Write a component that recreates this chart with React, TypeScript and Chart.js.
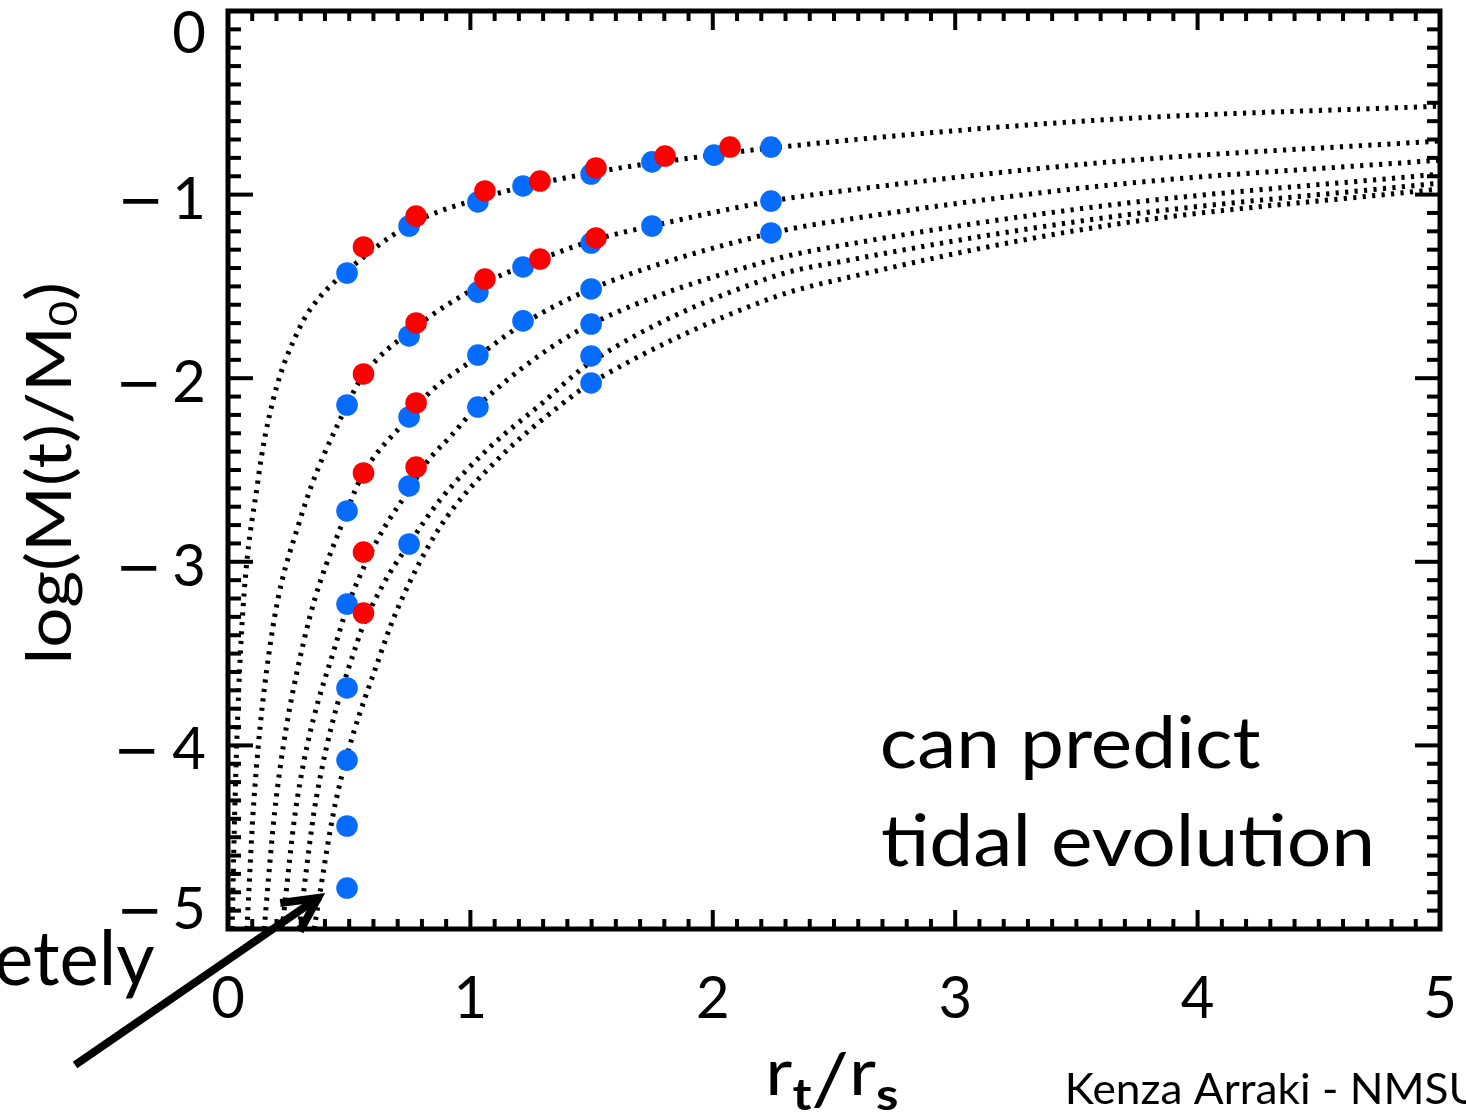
import React, { useEffect, useRef } from 'react';
import { Chart, registerables } from 'chart.js';

Chart.register(...registerables);

const FONT = 'Lato, "Open Sans", sans-serif';

// ---- axes ----
const xRange = [0, 5];
const yRange = [-5, 0];
const xTickValues = [0, 1, 2, 3, 4, 5];
const xTickLabels = ['0', '1', '2', '3', '4', '5'];
const yTickValues = [0, -1, -2, -3, -4, -5];
const yTickLabels = ['0', '1', '2', '3', '4', '5'];
const yTickNegative = [false, true, true, true, true, true];
const minorStep = 0.1;

// ---- dotted model curves: x = r_t / r_s, y = log(M(t)/M0) ----
const curve1X = [0.017, 0.029, 0.054, 0.124, 0.186, 0.297, 0.359, 0.491, 0.747, 1.031, 1.498, 2.005, 2.24, 3.597, 5.0];
const curve1Y = [-5.0, -4.297, -3.426, -2.554, -2.119, -1.721, -1.59, -1.416, -1.166, -1.024, -0.882, -0.784, -0.746, -0.594, -0.518];

const curve2X = [0.078, 0.107, 0.177, 0.297, 0.491, 0.557, 0.759, 1.044, 1.25, 1.51, 1.749, 2.244, 2.566, 3.639, 5.0];
const curve2Y = [-5.0, -4.297, -3.426, -2.772, -2.146, -1.988, -1.737, -1.492, -1.373, -1.247, -1.171, -1.035, -0.975, -0.822, -0.708];

const curve3X = [0.149, 0.198, 0.314, 0.491, 0.557, 0.747, 0.821, 1.027, 1.217, 1.498, 2.244, 2.566, 3.639, 5.0];
const curve3Y = [-5.0, -4.297, -3.426, -2.723, -2.522, -2.211, -2.092, -1.885, -1.705, -1.514, -1.209, -1.133, -0.948, -0.812];

const curve4X = [0.223, 0.285, 0.462, 0.503, 0.565, 0.639, 0.747, 0.821, 0.916, 1.027, 1.258, 1.498, 2.244, 2.566, 3.639, 5.0];
const curve4Y = [-5.0, -4.297, -3.371, -3.208, -3.017, -2.827, -2.609, -2.456, -2.32, -2.157, -1.901, -1.705, -1.356, -1.269, -1.057, -0.888];

const curve5X = [0.293, 0.363, 0.536, 0.639, 0.747, 0.875, 1.081, 1.287, 1.498, 2.244, 2.566, 3.639, 5.0];
const curve5Y = [-5.0, -4.297, -3.426, -3.126, -2.903, -2.663, -2.375, -2.146, -1.912, -1.449, -1.356, -1.122, -0.937];

const curve6X = [0.355, 0.446, 0.635, 0.71, 0.875, 1.11, 1.399, 1.498, 2.244, 2.566, 3.639, 5.0];
const curve6Y = [-5.0, -4.297, -3.48, -3.224, -2.81, -2.446, -2.119, -2.026, -1.563, -1.449, -1.166, -0.969];

// ---- simulation points ----
const blueX = [
  0.491, 0.491, 0.491, 0.491, 0.491, 0.491, 0.491, 0.491,
  0.747, 0.747, 0.747, 0.747, 0.747,
  1.031, 1.031, 1.031, 1.031,
  1.217, 1.217, 1.217,
  1.498, 1.498, 1.498, 1.498, 1.498, 1.498,
  1.749, 1.749,
  2.005,
  2.24, 2.24, 2.24,
];
const blueY = [
  -1.427, -2.146, -2.723, -3.23, -3.687, -4.08, -4.439, -4.777,
  -1.171, -1.77, -2.211, -2.587, -2.903,
  -1.04, -1.531, -1.874, -2.157,
  -0.953, -1.394, -1.688,
  -0.888, -1.264, -1.514, -1.705, -1.879, -2.026,
  -0.822, -1.171,
  -0.785,
  -0.741, -1.035, -1.209,
];

const redX = [
  0.559, 0.559, 0.559, 0.559, 0.559,
  0.776, 0.776, 0.776, 0.776,
  1.06, 1.06,
  1.287, 1.287,
  1.518, 1.518,
  1.803,
  2.071,
];
const redY = [
  -1.285, -1.977, -2.516, -2.947, -3.279,
  -1.117, -1.699, -2.135, -2.484,
  -0.98, -1.46,
  -0.926, -1.351,
  -0.855, -1.236,
  -0.79,
  -0.741,
];

// ---- annotation arrow (data coordinates) ----
const arrowTail = [-0.631, -5.741];
const arrowTip = [0.371, -4.831];

const curvesX = [curve1X, curve2X, curve3X, curve4X, curve5X, curve6X];
const curvesY = [curve1Y, curve2Y, curve3Y, curve4Y, curve5Y, curve6Y];

const zip = (xs: number[], ys: number[]) => xs.map((x, i) => ({ x, y: ys[i] }));

type Seg = { t: string; size: number; weight?: number; dy?: number; family?: string };

const fontOf = (s: Seg) => `${s.weight ?? 400} ${s.size}px ${s.family ?? FONT}`;

function drawRich(ctx: CanvasRenderingContext2D, segs: Seg[], left: number, baseline: number, inkWidth: number) {
  ctx.save();
  ctx.textAlign = 'left';
  ctx.textBaseline = 'alphabetic';
  const ms = segs.map((s) => {
    ctx.font = fontOf(s);
    return ctx.measureText(s.t);
  });
  const startBear = ms[0].actualBoundingBoxLeft;
  let adv = 0;
  for (let i = 0; i < ms.length - 1; i++) adv += ms[i].width;
  const total = startBear + adv + ms[ms.length - 1].actualBoundingBoxRight;
  const sx = inkWidth / total;
  ctx.translate(left, baseline);
  ctx.scale(sx, 1);
  let cx = startBear;
  segs.forEach((s, i) => {
    ctx.font = fontOf(s);
    ctx.fillText(s.t, cx, s.dy ?? 0);
    cx += ms[i].width;
  });
  ctx.restore();
}

const framePlugin = {
  id: 'idlFrame',
  afterDraw(chart: any) {
    const { ctx, chartArea: a, scales } = chart;
    const xs = scales.x;
    const ys = scales.y;
    ctx.save();
    ctx.strokeStyle = '#000';
    ctx.fillStyle = '#000';

    const seg = (x1: number, y1: number, x2: number, y2: number) => {
      ctx.beginPath();
      ctx.moveTo(x1, y1);
      ctx.lineTo(x2, y2);
      ctx.stroke();
    };

    // inward ticks on all four sides
    ctx.lineWidth = 4;
    ctx.lineCap = 'butt';
    const nx = Math.round((xRange[1] - xRange[0]) / minorStep);
    for (let i = 0; i <= nx; i++) {
      const v = xRange[0] + i * minorStep;
      const px = xs.getPixelForValue(v);
      const major = xTickValues.some((t) => Math.abs(t - v) < 1e-6);
      const len = major ? 19 : 10;
      seg(px, a.bottom, px, a.bottom - len);
      seg(px, a.top, px, a.top + len);
    }
    const ny = Math.round((yRange[1] - yRange[0]) / minorStep);
    for (let i = 0; i <= ny; i++) {
      const v = yRange[0] + i * minorStep;
      const py = ys.getPixelForValue(v);
      const major = yTickValues.some((t) => Math.abs(t - v) < 1e-6);
      const len = major ? 25 : 13;
      seg(a.left, py, a.left + len, py);
      seg(a.right, py, a.right - len, py);
    }

    // frame
    ctx.lineWidth = 5;
    ctx.lineJoin = 'miter';
    ctx.strokeRect(a.left, a.top, a.right - a.left, a.bottom - a.top);

    // tick labels
    ctx.font = `400 58px ${FONT}`;
    ctx.textBaseline = 'alphabetic';
    ctx.textAlign = 'center';
    xTickValues.forEach((v, i) => {
      ctx.fillText(xTickLabels[i], xs.getPixelForValue(v), a.bottom + 89);
    });
    yTickValues.forEach((v, i) => {
      const py = ys.getPixelForValue(v);
      const base = Math.min(Math.max(py + 24, a.top + 42), a.bottom);
      const rx = a.left - 22;
      ctx.font = `400 58px ${FONT}`;
      ctx.textAlign = 'right';
      ctx.fillText(yTickLabels[i], rx, base);
      if (yTickNegative[i]) {
        const m = ctx.measureText(yTickLabels[i]);
        const digitLeft = rx - m.actualBoundingBoxLeft;
        ctx.font = `400 56px "DejaVu Sans", ${FONT}`;
        ctx.textAlign = 'left';
        const mm = ctx.measureText('\u2212');
        const inkW = mm.actualBoundingBoxLeft + mm.actualBoundingBoxRight;
        const inkRight = digitLeft - 18;
        ctx.fillText('\u2212', inkRight - inkW + mm.actualBoundingBoxLeft, base);
      }
    });

    // y-axis title (rotated)
    ctx.save();
    ctx.translate(71, 660);
    ctx.rotate(-Math.PI / 2);
    drawRich(
      ctx,
      [
        { t: 'log(M(t)/M', size: 62 },
        { t: '0', size: 38, dy: 6 },
        { t: ')', size: 62 },
      ],
      0,
      0,
      375
    );
    ctx.restore();

    // x-axis title
    drawRich(
      ctx,
      [
        { t: 'r', size: 64 },
        { t: 't', size: 44, weight: 700, dy: 15 },
        { t: '/', size: 72, dy: 10 },
        { t: 'r', size: 64 },
        { t: 's', size: 44, weight: 700, dy: 15 },
      ],
      770,
      1095,
      127
    );

    // credit
    drawRich(ctx, [{ t: 'Kenza Arraki - NMSU', size: 42 }], 1068, 1104, 410);

    // annotation text
    drawRich(ctx, [{ t: 'can predict', size: 71 }], 882, 768, 378);
    drawRich(ctx, [{ t: 'tidal evolution', size: 71 }], 882, 866, 488);
    drawRich(ctx, [{ t: 'etely', size: 75 }], -3, 985, 158);

    // arrow
    const tx = xs.getPixelForValue(arrowTip[0]);
    const ty = ys.getPixelForValue(arrowTip[1]);
    const sx = xs.getPixelForValue(arrowTail[0]);
    const sy = ys.getPixelForValue(arrowTail[1]);
    ctx.lineWidth = 8;
    ctx.lineCap = 'butt';
    seg(sx, sy, tx, ty);
    const ang = Math.atan2(sy - ty, sx - tx);
    const hl = 38;
    const spread = (27 * Math.PI) / 180;
    ctx.beginPath();
    ctx.moveTo(tx + hl * Math.cos(ang + spread), ty + hl * Math.sin(ang + spread));
    ctx.lineTo(tx, ty);
    ctx.lineTo(tx + hl * Math.cos(ang - spread), ty + hl * Math.sin(ang - spread));
    ctx.stroke();

    ctx.restore();
  },
};

export default function App() {
  const ref = useRef<HTMLCanvasElement | null>(null);

  useEffect(() => {
    document.body.style.margin = '0';
    document.body.style.overflow = 'hidden';
    const canvas = ref.current;
    if (!canvas) return;

    const curveDatasets = curvesX.map((xs, k) => ({
      type: 'line' as const,
      data: zip(xs, curvesY[k]),
      borderColor: '#000',
      borderWidth: 5,
      borderDash: [3.2, 6.3],
      borderCapStyle: 'butt' as const,
      pointRadius: 0,
      fill: false,
      cubicInterpolationMode: 'monotone' as const,
      order: 2,
    }));

    const chart = new Chart(canvas, {
      type: 'scatter',
      data: {
        datasets: [
          {
            type: 'scatter',
            data: zip(redX, redY),
            backgroundColor: '#FF0000',
            borderWidth: 0,
            pointRadius: 10.8,
            pointHoverRadius: 10.8,
            order: 0,
          },
          {
            type: 'scatter',
            data: zip(blueX, blueY),
            backgroundColor: '#066BFF',
            borderWidth: 0,
            pointRadius: 10.8,
            pointHoverRadius: 10.8,
            order: 1,
          },
          ...curveDatasets,
        ] as any,
      },
      options: {
        responsive: false,
        animation: false,
        events: [],
        layout: { padding: { left: 228, right: 26, top: 11, bottom: 184 } },
        scales: {
          x: { type: 'linear', min: xRange[0], max: xRange[1], display: false },
          y: { type: 'linear', min: yRange[0], max: yRange[1], display: false },
        },
        plugins: {
          legend: { display: false },
          tooltip: { enabled: false },
        },
      },
      plugins: [framePlugin],
    });
    return () => chart.destroy();
  }, []);

  return (
    <div style={{ width: 1466, height: 1113, background: '#fff' }}>
      <canvas ref={ref} width={1466} height={1113} style={{ display: 'block', width: 1466, height: 1113 }} />
    </div>
  );
}
